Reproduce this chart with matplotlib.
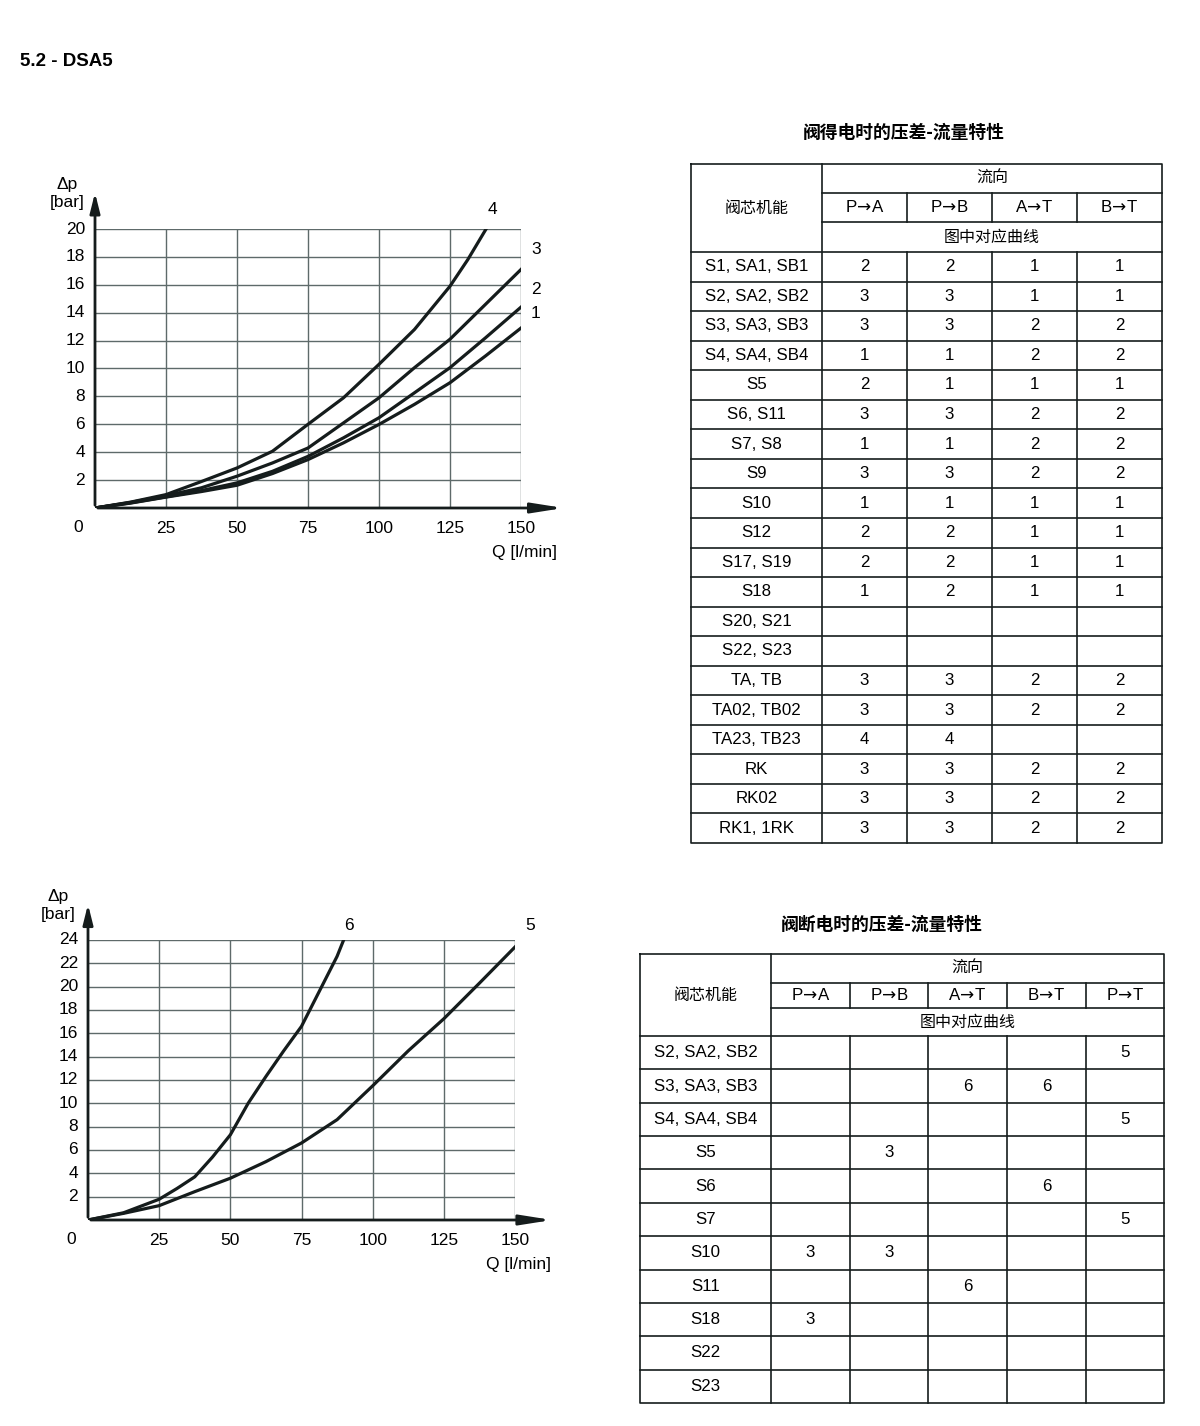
import matplotlib
matplotlib.use("Agg")
import matplotlib.pyplot as plt

plt.rcParams['font.family'] = ['Liberation Sans', 'DejaVu Sans']
CJK = ['Noto Sans CJK SC', 'DejaVu Sans']

# curves (Q in l/min, dp in bar)
q_top = [0, 12.5, 25, 37.5, 50, 62.5, 75, 87.5, 100, 112.5, 125, 137.5, 150]
dp1 = [0, 0.35, 0.78, 1.18, 1.63, 2.47, 3.47, 4.67, 5.99, 7.43, 8.98, 10.9, 12.9]
dp2 = [0, 0.37, 0.8, 1.25, 1.8, 2.63, 3.7, 5.03, 6.47, 8.26, 10.06, 12.2, 14.4]
dp3 = [0, 0.4, 0.88, 1.45, 2.28, 3.23, 4.3, 6.1, 7.9, 10.06, 12.1, 14.6, 17.1]
q4 = [0, 12.5, 25, 37.5, 50, 62.5, 75, 87.5, 100, 112.5, 125, 131.25, 137.7]
dp4 = [0, 0.42, 0.96, 1.9, 2.87, 4.07, 6.0, 7.9, 10.3, 12.8, 15.9, 17.8, 20.0]

# curves
q5 = [0, 12.5, 25, 37.5, 50, 62.5, 75, 87.5, 100, 112.5, 125, 137.5, 150]
dp5 = [0, 0.57, 1.23, 2.43, 3.58, 5.0, 6.6, 8.6, 11.5, 14.5, 17.25, 20.3, 23.4]
q6 = [0, 12.5, 25, 31.25, 37.5, 43.75, 50, 56.25, 62.5, 68.75, 75, 81.25, 87.5, 89.8]
dp6 = [0, 0.62, 1.78, 2.7, 3.7, 5.4, 7.3, 10.0, 12.3, 14.5, 16.6, 19.6, 22.6, 24.0]

# table 1: valve energised
rows_on = ["S1, SA1, SB1", "S2, SA2, SB2", "S3, SA3, SB3", "S4, SA4, SB4", "S5",
           "S6, S11", "S7, S8", "S9", "S10", "S12", "S17, S19", "S18",
           "S20, S21", "S22, S23", "TA, TB", "TA02, TB02", "TA23, TB23",
           "RK", "RK02", "RK1, 1RK"]
dirs_on = ["P→A", "P→B", "A→T", "B→T"]
vals_on = [["2", "2", "1", "1"], ["3", "3", "1", "1"], ["3", "3", "2", "2"],
           ["1", "1", "2", "2"], ["2", "1", "1", "1"], ["3", "3", "2", "2"],
           ["1", "1", "2", "2"], ["3", "3", "2", "2"], ["1", "1", "1", "1"],
           ["2", "2", "1", "1"], ["2", "2", "1", "1"], ["1", "2", "1", "1"],
           ["", "", "", ""], ["", "", "", ""], ["3", "3", "2", "2"],
           ["3", "3", "2", "2"], ["4", "4", "", ""], ["3", "3", "2", "2"],
           ["3", "3", "2", "2"], ["3", "3", "2", "2"]]

# table 2: valve de-energised
rows_off = ["S2, SA2, SB2", "S3, SA3, SB3", "S4, SA4, SB4", "S5", "S6", "S7",
            "S10", "S11", "S18", "S22", "S23"]
dirs_off = ["P→A", "P→B", "A→T", "B→T", "P→T"]
vals_off = [["", "", "", "", "5"], ["", "", "6", "6", ""], ["", "", "", "", "5"],
            ["", "3", "", "", ""], ["", "", "", "6", ""], ["", "", "", "", "5"],
            ["3", "3", "", "", ""], ["", "", "6", "", ""], ["3", "", "", "", ""],
            ["", "", "", "", ""], ["", "", "", "", ""]]

W, H = 1200, 1426
fig = plt.figure(figsize=(W / 100, H / 100), dpi=100)

line_c = '#151c1c'
grid_c = '#5e6a6a'


def px_axes(x0, y0, x1, y1):
    return fig.add_axes([x0 / W, 1 - y1 / H, (x1 - x0) / W, (y1 - y0) / H])


def chart(box, ymax, ystep, arrow_y, arrow_x, curves, labels, zero_xy, dp_xy, q_xy):
    ax = px_axes(*box)
    ax.set_xlim(0, 150)
    ax.set_ylim(0, ymax)
    for s in ax.spines.values():
        s.set_visible(False)
    ax.set_xticks([])
    ax.set_yticks([])
    ax.patch.set_alpha(0)
    for v in range(25, 151, 25):
        ax.plot([v, v], [0, ymax], color=grid_c, lw=1.0, zorder=1)
        ax.text(v, -ymax * 0.072, str(v), ha='center', va='center', fontsize=12.5)
    for v in range(ystep, ymax + 1, ystep):
        ax.plot([0, 150], [v, v], color=grid_c, lw=1.0, zorder=1)
        ax.text(-3.5, v, str(v), ha='right', va='center', fontsize=12.5)
    # axis arrows
    ax.annotate('', xy=(0, arrow_y), xytext=(0, 0), annotation_clip=False,
                arrowprops=dict(arrowstyle='-|>,head_length=1.2,head_width=0.3',
                                color=line_c, lw=2))
    ax.annotate('', xy=(arrow_x, 0), xytext=(0, 0), annotation_clip=False,
                arrowprops=dict(arrowstyle='-|>,head_length=1.9,head_width=0.3',
                                color=line_c, lw=2))
    for q, dp in curves:
        ax.plot(q, dp, color=line_c, lw=2.3, solid_joinstyle='round', zorder=3)
    for txt, (x, y) in labels:
        fig.text(x / W, 1 - y / H, txt, ha='center', va='center', fontsize=12.5)
    fig.text(zero_xy[0] / W, 1 - zero_xy[1] / H, "0", ha='center', va='center', fontsize=12.5)
    fig.text(dp_xy[0] / W, 1 - dp_xy[1] / H, "Δp\n[bar]", ha='center', va='center',
             fontsize=12.5, linespacing=1.25)
    fig.text(q_xy[0] / W, 1 - q_xy[1] / H, "Q [l/min]", ha='center', va='center', fontsize=12.5)
    return ax


chart((95, 229, 521, 508), 20, 2, 22.8, 166,
      [(q_top, dp1), (q_top, dp2), (q_top, dp3), (q4, dp4)],
      [("4", (492, 209)), ("3", (536, 250)), ("2", (536, 289)), ("1", (536, 314))],
      (78, 528), (67, 193), (525, 553))

chart((88, 940, 515, 1220), 24, 2, 27.3, 164,
      [(q5, dp5), (q6, dp6)],
      [("6", (349, 925)), ("5", (530, 925))],
      (71, 1240), (58, 905), (519, 1265))

fig.text(20 / W, 1 - 62 / H, "5.2 - DSA5", fontsize=13.5, fontweight='bold', va='center')

# overlay axes in pixel units for the tables
tx = fig.add_axes([0, 0, 1, 1])
tx.set_xlim(0, W)
tx.set_ylim(H, 0)
tx.axis('off')


def arrow_label(s):
    return s.replace("→", r"$\!\rightarrow\!$")


def table(xs, hy, y_end, rows, dirs, vals, title, title_xy):
    n = len(rows)
    rh = (y_end - hy[3]) / n
    x0, x1 = xs[0], xs[-1]
    kw = dict(color=line_c, lw=1.2)
    tx.plot([x0, x1, x1, x0, x0], [hy[0], hy[0], y_end, y_end, hy[0]], **kw)
    tx.plot([xs[1], xs[1]], [hy[0], y_end], **kw)
    tx.plot([xs[1], x1], [hy[1], hy[1]], **kw)
    tx.plot([xs[1], x1], [hy[2], hy[2]], **kw)
    for x in xs[2:-1]:
        tx.plot([x, x], [hy[1], hy[2]], **kw)
        tx.plot([x, x], [hy[3], y_end], **kw)
    for i in range(n):
        y = hy[3] + i * rh
        tx.plot([x0, x1], [y, y], **kw)
    fs = 12.2
    mid = (xs[1] + x1) / 2
    tx.text(mid, (hy[0] + hy[1]) / 2, "流向", ha='center', va='center', fontsize=11.5, family=CJK)
    tx.text(mid, (hy[2] + hy[3]) / 2, "图中对应曲线", ha='center', va='center', fontsize=11.5, family=CJK)
    tx.text((x0 + xs[1]) / 2, (hy[0] + hy[3]) / 2, "阀芯机能", ha='center', va='center',
            fontsize=11.5, family=CJK)
    for j, d in enumerate(dirs):
        tx.text((xs[j + 1] + xs[j + 2]) / 2, (hy[1] + hy[2]) / 2, arrow_label(d),
                ha='center', va='center', fontsize=fs)
    for i, r in enumerate(rows):
        yc = hy[3] + (i + 0.5) * rh
        tx.text((x0 + xs[1]) / 2, yc, r, ha='center', va='center', fontsize=fs)
        for j, v in enumerate(vals[i]):
            tx.text((xs[j + 1] + xs[j + 2]) / 2, yc, v, ha='center', va='center', fontsize=fs)
    tx.text(title_xy[0], title_xy[1], title, ha='center', va='center', fontsize=12.8,
            fontweight='bold', family=CJK)


table([691, 822, 907, 992, 1077, 1162], [164, 193, 222, 252], 843,
      rows_on, dirs_on, vals_on, "阀得电时的压差-流量特性", (904, 133))
table([640, 771, 850, 928, 1007, 1086, 1164], [954, 983, 1008, 1036], 1403,
      rows_off, dirs_off, vals_off, "阀断电时的压差-流量特性", (882, 925))

fig.savefig("out.png", dpi=100)
